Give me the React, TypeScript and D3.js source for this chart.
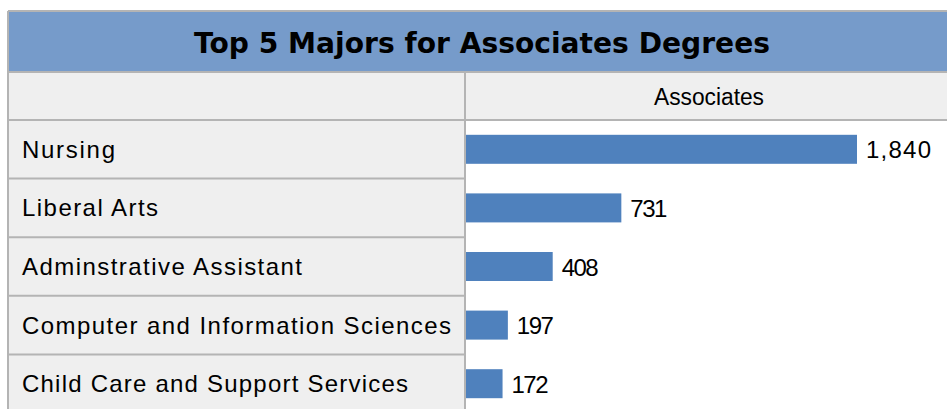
import React from "react";
import * as d3 from "d3";

const majors = [
  "Nursing",
  "Liberal Arts",
  "Adminstrative Assistant",
  "Computer and Information Sciences",
  "Child Care and Support Services",
];
const associates = [1840, 731, 408, 197, 172];
// measured label widths in the reference, used to keep the spaced-out look
const labelWidths = [93, 136, 280, 429, 386];
const valueLabels = ["1,840", "731", "408", "197", "172"];
const valueWidths = [65, 37, 37, 37, 37];

const title = "Top 5 Majors for Associates Degrees";
const seriesName = "Associates";

const W = 947;
const H = 409;
const left = 8;
const colX = 465;
const titleTop = 11;
const headTop = 72;
const rowsTop = 120;
const rowH = 58.6;

const font = "'DejaVu Sans', Verdana, sans-serif";
const narrow = "'Liberation Sans', Arial, sans-serif";

const App = () => {
  const y = d3
    .scaleBand<string>()
    .domain(majors)
    .range([rowsTop, rowsTop + rowH * majors.length])
    .paddingInner(0)
    .paddingOuter(0);

  const x = d3.scaleLinear().domain([0, 1840]).range([colX + 1, colX + 392]);
  const barH = 29;

  return (
    <svg
      width={W}
      height={H}
      style={{ position: "absolute", left: 0, top: 0, display: "block" }}
    >
      <rect x={0} y={0} width={W} height={H} fill="#fff" />
      {/* title band */}
      <rect x={left} y={titleTop} width={W - left + 2} height={headTop - titleTop} fill="#769bca" />
      <line x1={left} x2={W} y1={titleTop} y2={titleTop} stroke="#b4b4b4" strokeWidth={2} />
      <text
        x={482}
        y={53}
        textAnchor="middle"
        fontFamily={font}
        fontWeight="bold"
        fontSize={29}
        textLength={576}
        lengthAdjust="spacingAndGlyphs"
        fill="#000"
      >
        {title}
      </text>

      {/* header row */}
      <rect x={left} y={headTop} width={W - left} height={rowsTop - headTop} fill="#efefef" />
      <line x1={left} x2={W} y1={headTop} y2={headTop} stroke="#b4b4b4" strokeWidth={2} />
      <text
        x={709}
        y={105}
        textAnchor="middle"
        fontFamily={narrow}
        fontSize={23}
        textLength={110}
        lengthAdjust="spacingAndGlyphs"
        fill="#000"
      >
        {seriesName}
      </text>

      {/* left column cells */}
      <rect x={left} y={rowsTop} width={colX - left} height={H - rowsTop + 10} fill="#efefef" />

      {majors.map((m, i) => {
        const y0 = y(m) as number;
        const cy = y0 + y.bandwidth() / 2;
        return (
          <g key={m}>
            <line x1={left} x2={colX} y1={y0} y2={y0} stroke="#b4b4b4" strokeWidth={2} />
            <text
              x={22}
              y={cy + 8.5}
              fontFamily={narrow}
              fontSize={24}
              textLength={labelWidths[i]}
              lengthAdjust="spacing"
              fill="#000"
            >
              {m}
            </text>
            <rect
              x={x(0)}
              y={cy - barH / 2}
              width={x(associates[i]) - x(0)}
              height={barH}
              fill="#4f81bd"
            />
            <text
              x={x(associates[i]) + 9}
              y={cy + 9}
              fontFamily={narrow}
              fontSize={24}
              textLength={valueWidths[i]}
              lengthAdjust="spacing"
              fill="#000"
            >
              {valueLabels[i]}
            </text>
          </g>
        );
      })}
      <line x1={colX} x2={W} y1={rowsTop} y2={rowsTop} stroke="#b4b4b4" strokeWidth={2} />

      {/* vertical borders */}
      <line x1={left} x2={left} y1={titleTop} y2={H} stroke="#b4b4b4" strokeWidth={2} />
      <line x1={colX} x2={colX} y1={headTop} y2={H} stroke="#b4b4b4" strokeWidth={2} />
    </svg>
  );
};

export default App;
